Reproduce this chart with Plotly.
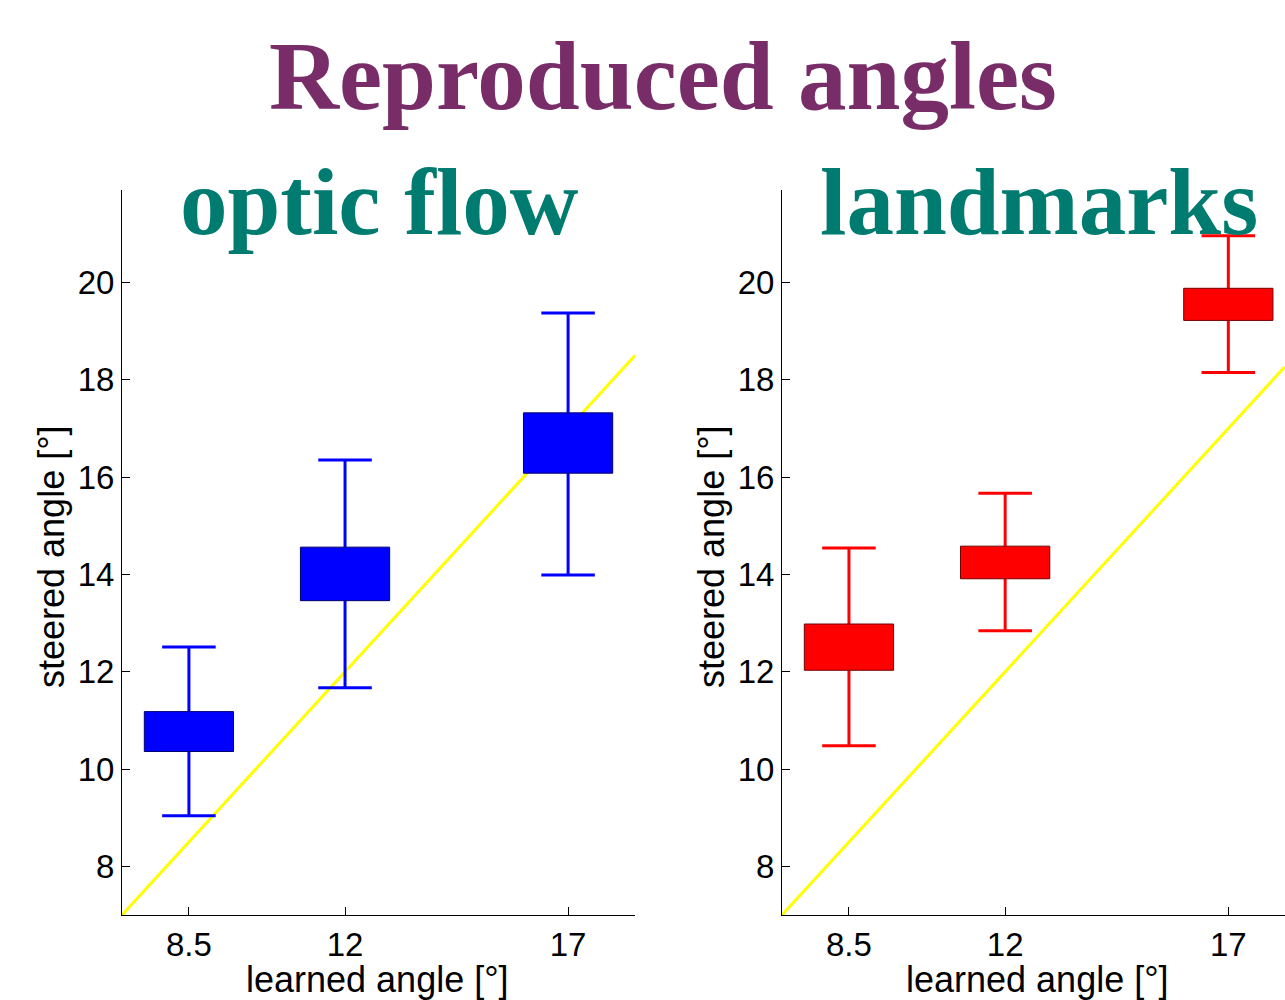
import plotly.graph_objects as go
from plotly.subplots import make_subplots

# ---- data ----
learned = [8.5, 12, 17]
tick_text = ["8.5", "12", "17"]
y_ticks = [8, 10, 12, 14, 16, 18, 20]

optic_low = [9.04, 11.67, 13.99]
optic_q1 = [10.36, 13.46, 16.08]
optic_q3 = [11.18, 14.56, 17.32]
optic_high = [12.51, 16.35, 19.37]

land_low = [10.48, 12.84, 18.15]
land_q1 = [12.03, 13.91, 19.22]
land_q3 = [12.98, 14.58, 19.88]
land_high = [14.54, 15.67, 20.96]

left_xrange = [7, 18.5]
right_xrange = [7, 18.27]
y_range = [7, 21.9]

BOX_HALF = 1.0
CAP_HALF = 0.6

fig = make_subplots(rows=1, cols=2)


def add_panel(col, low, q1, q3, high, color, edge, xr):
    # identity line
    fig.add_trace(go.Scatter(x=xr, y=xr, mode="lines",
                             line=dict(color="#FFFF00", width=3),
                             showlegend=False, hoverinfo="skip"), row=1, col=col)
    wx, wy = [], []
    for x, lo, a, b, hi in zip(learned, low, q1, q3, high):
        wx += [x, x, None, x, x, None, x - CAP_HALF, x + CAP_HALF, None, x - CAP_HALF, x + CAP_HALF, None]
        wy += [lo, a, None, b, hi, None, lo, lo, None, hi, hi, None]
    fig.add_trace(go.Scatter(x=wx, y=wy, mode="lines",
                             line=dict(color=color, width=3),
                             showlegend=False, hoverinfo="skip"), row=1, col=col)
    bx, by = [], []
    for x, a, b in zip(learned, q1, q3):
        bx += [x - BOX_HALF, x + BOX_HALF, x + BOX_HALF, x - BOX_HALF, x - BOX_HALF, None]
        by += [a, a, b, b, a, None]
    fig.add_trace(go.Scatter(x=bx, y=by, mode="lines", fill="toself",
                             fillcolor=color, line=dict(color=edge, width=1),
                             showlegend=False, hoverinfo="skip"), row=1, col=col)


add_panel(1, optic_low, optic_q1, optic_q3, optic_high, "#0000FF", "#00006E", left_xrange)
add_panel(2, land_low, land_q1, land_q3, land_high, "#FF0000", "#700000", right_xrange)

sans = "Liberation Sans, Arial, sans-serif"
tick_font = dict(family=sans, size=33, color="black")
label_font = dict(family=sans, size=36, color="black")

for col, xr in [(1, left_xrange), (2, right_xrange)]:
    fig.update_xaxes(range=xr, tickvals=learned, ticktext=tick_text,
                     showline=True, linecolor="black", linewidth=1,
                     ticks="inside", ticklen=8, tickcolor="black",
                     showgrid=False, zeroline=False, tickfont=tick_font,
                     automargin=False, row=1, col=col)
    fig.update_yaxes(range=y_range, tickvals=y_ticks,
                     showline=True, linecolor="black", linewidth=1,
                     ticks="inside", ticklen=8, tickcolor="black",
                     showgrid=False, zeroline=False, tickfont=tick_font,
                     automargin=False, row=1, col=col)

fig.update_layout(
    xaxis=dict(domain=[122 / 1285, 635 / 1285]),
    xaxis2=dict(domain=[782 / 1285, 1.0]),
    yaxis=dict(domain=[0.085, 0.81]),
    yaxis2=dict(domain=[0.085, 0.81]),
    width=1285, height=1000,
    margin=dict(l=0, r=0, t=0, b=0, autoexpand=False),
    paper_bgcolor="white", plot_bgcolor="white",
    showlegend=False,
)

# axis titles
for cx in (377, 1037):
    fig.add_annotation(text="learned angle [°]", x=cx / 1285, y=1 - 979 / 1000,
                       xref="paper", yref="paper", xanchor="center", yanchor="middle",
                       showarrow=False, font=label_font)
for cx in (51, 711):
    fig.add_annotation(text="steered angle [°]", x=cx / 1285, y=1 - 557 / 1000,
                       xref="paper", yref="paper", xanchor="center", yanchor="middle",
                       textangle=-90, showarrow=False, font=label_font)

serif = "Liberation Serif, Times New Roman, serif"
fig.add_annotation(text="<b>Reproduced angles</b>", x=663 / 1285, y=1 - 77 / 1000,
                   xref="paper", yref="paper", xanchor="center", yanchor="middle",
                   showarrow=False, font=dict(family=serif, size=97, color="#782D69"))
fig.add_annotation(text="<b>optic flow</b>", x=379 / 1285, y=1 - 202 / 1000,
                   xref="paper", yref="paper", xanchor="center", yanchor="middle",
                   showarrow=False, font=dict(family=serif, size=95, color="#007B70"))
fig.add_annotation(text="<b>landmarks</b>", x=1039 / 1285, y=1 - 202 / 1000,
                   xref="paper", yref="paper", xanchor="center", yanchor="middle",
                   showarrow=False, font=dict(family=serif, size=95, color="#007B70"))

fig.write_html("out.html", config={"displayModeBar": False},
               post_script="document.body.style.margin='0px';document.body.style.padding='0px';")
